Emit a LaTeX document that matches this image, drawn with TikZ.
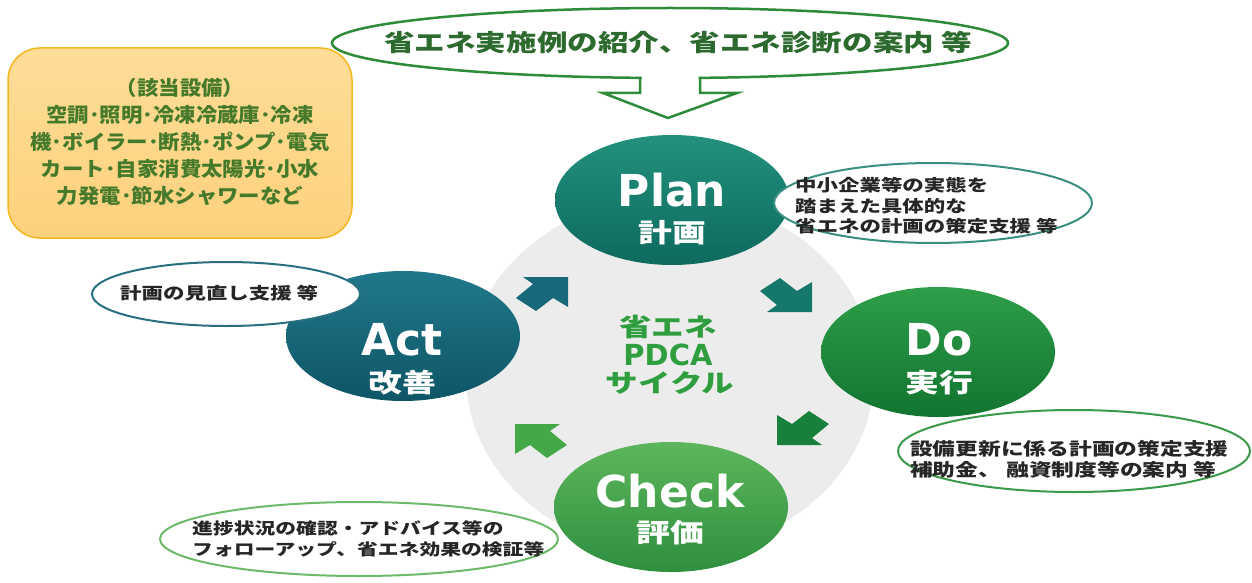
\documentclass[tikz,border=0pt]{standalone}
\usepackage{fontspec}
\usetikzlibrary{shapes.geometric}
\setmainfont{DejaVu Sans}
\newfontfamily\jpA[FakeStretch=1.07]{Noto Sans CJK JP}
\newfontfamily\jpB[FakeStretch=1.3]{Noto Sans CJK JP}
\newfontfamily\latb{DejaVu Sans}
\definecolor{discgray}{HTML}{ECECEC}
\definecolor{topgreen}{HTML}{2E8B3A}
\definecolor{toptext}{HTML}{2C6A2E}
\definecolor{boxfillA}{HTML}{FEDD98}
\definecolor{boxfillB}{HTML}{FCD17C}
\definecolor{boxborder}{HTML}{F2B81C}
\definecolor{boxtext}{HTML}{457A2A}
\definecolor{planA}{HTML}{22917C}
\definecolor{planB}{HTML}{0E6A5D}
\definecolor{actA}{HTML}{20788B}
\definecolor{actB}{HTML}{0E5566}
\definecolor{doA}{HTML}{2E9E48}
\definecolor{doB}{HTML}{127430}
\definecolor{chkA}{HTML}{5DB65C}
\definecolor{chkB}{HTML}{2E8F3E}
\definecolor{arNE}{HTML}{16687A}
\definecolor{arSE}{HTML}{16786A}
\definecolor{arSW}{HTML}{17803A}
\definecolor{arNW}{HTML}{45A848}
\definecolor{centergreen}{HTML}{2E9E3E}
\definecolor{calloutPlan}{HTML}{3A8F80}
\definecolor{calloutAct}{HTML}{2A6F80}
\definecolor{calloutDo}{HTML}{3A9A4A}
\definecolor{calloutChk}{HTML}{6DBB6A}
\tikzset{
  stage/.style={ellipse, minimum width=234pt, minimum height=130pt, inner sep=0pt},
  stagelat/.style={text=white, font=\latb\bfseries\fontsize{44}{48}\selectfont, inner sep=0pt},
  stagejp/.style={text=white, font=\jpB\bfseries\fontsize{26}{30}\selectfont, inner sep=0pt},
  callout/.style={ellipse, draw, fill=white, line width=2pt, inner sep=0pt},
  ctext/.style={text=black!85, align=left, anchor=west, inner sep=0pt}
}
\begin{document}
\begin{tikzpicture}[x=1pt,y=-1pt]
\useasboundingbox (0,0) rectangle (1252,583);
% background disc
\node[ellipse, fill=discgray, minimum width=408pt, minimum height=356pt, inner sep=0pt] (disc) at (670,375) {};
% cycle arrows (tip at shift point)
\fill[arNE, shift={(568,277)}] (0,0) -- (-45,0) -- (-35,7) -- (-52,21) -- (-32,34) -- (-15,21) -- (0,30) -- cycle;
\fill[arSE, shift={(812,312)}, yscale=-1] (0,0) -- (-45,0) -- (-35,7) -- (-52,21) -- (-32,34) -- (-15,21) -- (0,30) -- cycle;
\fill[arSW, shift={(777,445)}, xscale=-1, yscale=-1] (0,0) -- (-45,0) -- (-35,7) -- (-52,21) -- (-32,34) -- (-15,21) -- (0,30) -- cycle;
\fill[arNW, shift={(515,424)}, xscale=-1] (0,0) -- (-45,0) -- (-35,7) -- (-52,21) -- (-32,34) -- (-15,21) -- (0,30) -- cycle;
% stage circles
\node[stage, top color=planA, bottom color=planB] (plan) at (672,200) {};
\node[stage, top color=actA, bottom color=actB] (act) at (403,336) {};
\node[stage, top color=doA, bottom color=doB] (do) at (938,352) {};
\node[stage, top color=chkA, bottom color=chkB] (check) at (671,507) {};
% centre text
\node[text=centergreen, font=\jpB\bfseries\fontsize{25}{28}\selectfont, inner sep=0pt] (c1) at (668,327) {省エネ};
\node[text=centergreen, font=\latb\bfseries\fontsize{29}{28}\selectfont, inner sep=0pt] (c2) at (668,355) {PDCA};
\node[text=centergreen, font=\jpB\bfseries\fontsize{25}{28}\selectfont, inner sep=0pt] (c3) at (670,383) {サイクル};
% stage labels
\node[stagelat] (planL) at (672,190) {Plan};
\node[stagejp] (planJ) at (672,233) {計画};
\node[stagelat] (actL) at (402,340) {Act};
\node[stagejp] (actJ) at (402,383) {改善};
\node[stagelat] (doL) at (939,340) {Do};
\node[stagejp] (doJ) at (939,383) {実行};
\node[stagelat] (chkL) at (670,491) {Check};
\node[stagejp] (chkJ) at (670,533) {評価};
% callouts
\node[callout, draw=calloutPlan, minimum width=318pt, minimum height=80pt] (planC) at (933,203) {};
\node[ctext, font=\jpB\bfseries\fontsize{16.5}{20.5}\selectfont] (planT) at (795,206) {中小企業等の実態を\\踏まえた具体的な\\省エネの計画の策定支援 等};
\node[callout, draw=calloutAct, minimum width=268pt, minimum height=64pt] (actC) at (226,294) {};
\node[ctext, font=\jpB\bfseries\fontsize{16.5}{20.5}\selectfont] (actT) at (120,293) {計画の見直し支援 等};
\node[callout, draw=calloutDo, minimum width=352pt, minimum height=82pt] (doC) at (1074,451) {};
\node[ctext, font=\jpB\bfseries\fontsize{17.5}{21}\selectfont] (doT) at (910,459) {設備更新に係る計画の策定支援\\補助金、 融資制度等の案内 等};
\node[callout, draw=calloutChk, minimum width=398pt, minimum height=74pt] (chkC) at (359,539) {};
\node[ctext, font=\jpB\bfseries\fontsize{16}{21}\selectfont] (chkT) at (192,539) {進捗状況の確認・アドバイス等の\\フォローアップ、省エネ効果の検証等};
% top ellipse with open arrow
\node[ellipse, draw=topgreen, line width=2.5pt, fill=white, minimum width=676pt, minimum height=70pt, inner sep=0pt] (topE) at (670,43) {};
\fill[white] (641.5,68) -- (641.5,93) -- (603,93) -- (668,118) -- (737,93) -- (698.5,93) -- (698.5,68) -- cycle;
\draw[topgreen, line width=2.5pt] (640,77) -- (640,93) -- (603,93) -- (668,118) -- (737,93) -- (700,93) -- (700,77);
\node[text=toptext, font=\jpB\bfseries\fontsize{23.5}{28}\selectfont, inner sep=0pt] (topT) at (678,42) {省エネ実施例の紹介、省エネ診断の案内 等};
% equipment box
\node[draw=boxborder, line width=1.5pt, top color=boxfillA, bottom color=boxfillB, rounded corners=32pt, minimum width=344pt, minimum height=190pt, inner sep=0pt] (box) at (180,143) {};
\node[text=boxtext, align=center, font=\jpA\bfseries\fontsize{20}{27}\selectfont, inner sep=0pt] (boxT) at (180,142) {（該当設備）\\空調･照明･冷凍冷蔵庫･冷凍\\機･ボイラー･断熱･ポンプ･電気\\カート･自家消費太陽光･小水\\力発電･節水シャワーなど};
\end{tikzpicture}
\end{document}
